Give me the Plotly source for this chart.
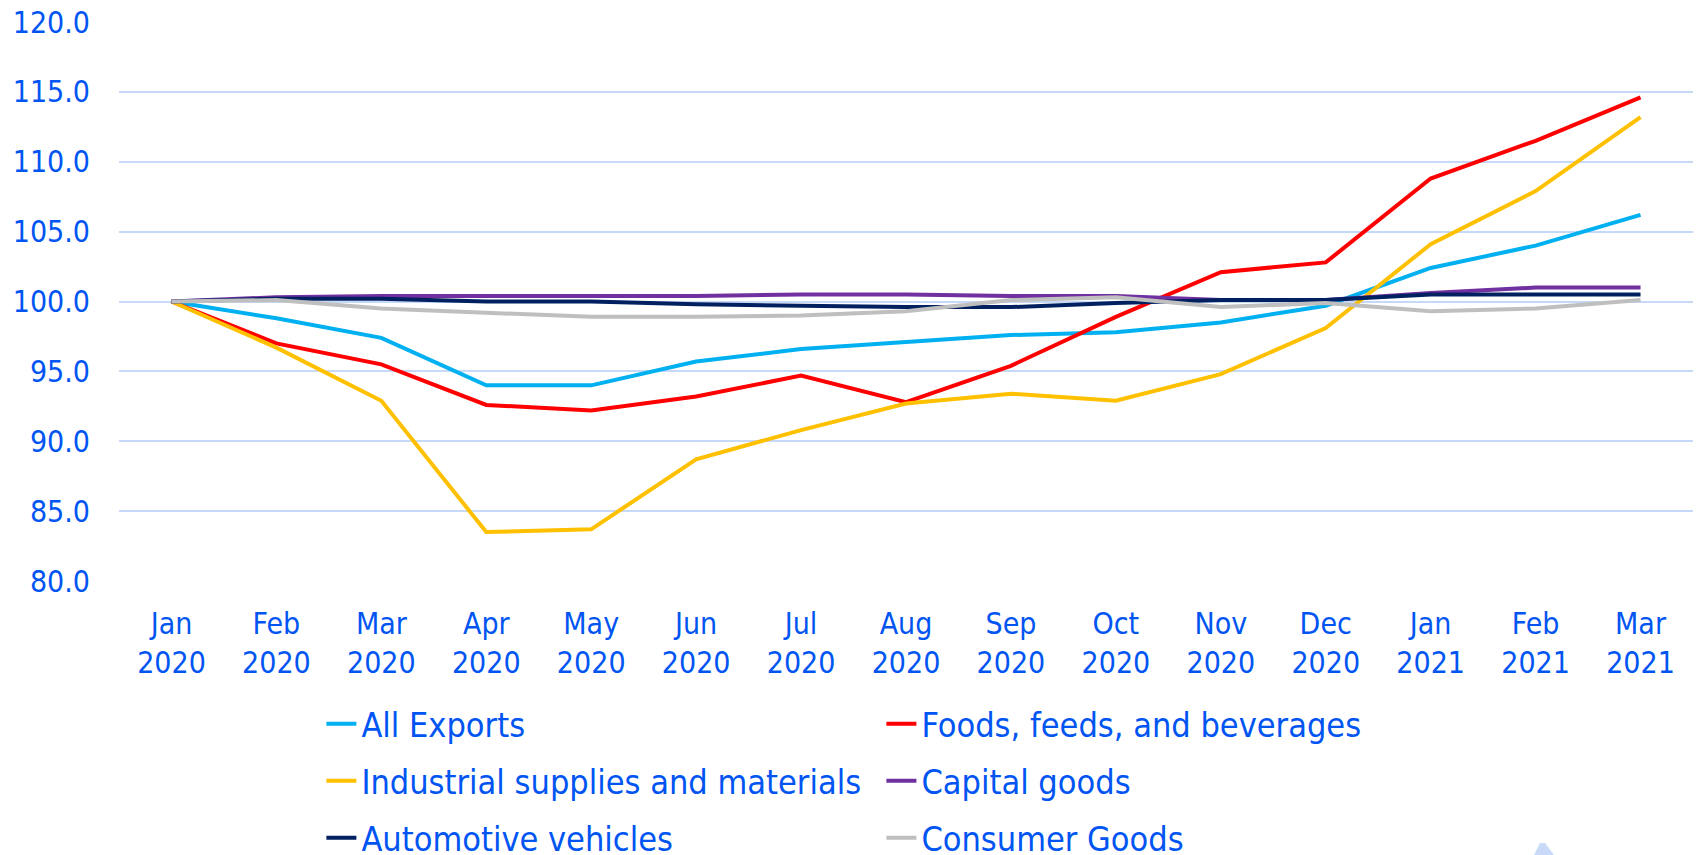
import plotly.graph_objects as go

# Monthly export price indexes, Jan 2020 = 100
months = ["Jan<br>2020", "Feb<br>2020", "Mar<br>2020", "Apr<br>2020", "May<br>2020",
          "Jun<br>2020", "Jul<br>2020", "Aug<br>2020", "Sep<br>2020", "Oct<br>2020",
          "Nov<br>2020", "Dec<br>2020", "Jan<br>2021", "Feb<br>2021", "Mar<br>2021"]

all_exports = [100.0, 98.8, 97.4, 94.0, 94.0, 95.7, 96.6, 97.1, 97.6, 97.8,
               98.5, 99.7, 102.4, 104.0, 106.2]
foods_feeds_beverages = [100.0, 97.0, 95.5, 92.6, 92.2, 93.2, 94.7, 92.8, 95.4, 98.9,
                         102.1, 102.8, 108.8, 111.5, 114.6]
industrial_supplies = [100.0, 96.7, 92.9, 83.5, 83.7, 88.7, 90.8, 92.7, 93.4, 92.9,
                       94.8, 98.1, 104.1, 107.9, 113.2]
capital_goods = [100.0, 100.3, 100.4, 100.4, 100.4, 100.4, 100.5, 100.5, 100.4, 100.4,
                 100.1, 100.1, 100.6, 101.0, 101.0]
automotive_vehicles = [100.0, 100.2, 100.2, 100.0, 100.0, 99.8, 99.7, 99.6, 99.6, 99.9,
                       100.1, 100.1, 100.5, 100.5, 100.5]
consumer_goods = [100.0, 100.1, 99.5, 99.2, 98.9, 98.9, 99.0, 99.3, 100.1, 100.3,
                  99.6, 99.9, 99.3, 99.5, 100.1]

y_ticks = [80, 85, 90, 95, 100, 105, 110, 115, 120]

series = [
    ("All Exports", all_exports, "#00B0F0", "legend"),
    ("Foods, feeds, and beverages", foods_feeds_beverages, "#FF0000", "legend"),
    ("Industrial supplies and materials", industrial_supplies, "#FFC000", "legend2"),
    ("Capital goods", capital_goods, "#7030A0", "legend2"),
    ("Automotive vehicles", automotive_vehicles, "#002060", "legend3"),
    ("Consumer Goods", consumer_goods, "#BFBFBF", "legend3"),
]

FONT = "DejaVu Sans Condensed, DejaVu Sans, sans-serif"
TEXT_BLUE = "#0055F2"
GRID = "#C6D9F8"

fig = go.Figure()
for name, values, color, leg in series:
    fig.add_trace(go.Scatter(
        x=months, y=values, name=name, mode="lines",
        line=dict(color=color, width=4),
        legend=leg,
    ))

# three legend rows, two entries each, placed in container coordinates
legend_common = dict(
    orientation="h", xanchor="left", yanchor="middle",
    xref="container", yref="container",
    font=dict(family=FONT, size=34, color=TEXT_BLUE),
    bgcolor="rgba(0,0,0,0)", entrywidth=515, entrywidthmode="pixels",
    itemclick=False, itemdoubleclick=False,
)

fig.update_layout(
    width=1696, height=855,
    margin=dict(l=119, r=3, t=22, b=274, autoexpand=False),
    plot_bgcolor="white", paper_bgcolor="white",
    font=dict(family=FONT, size=30, color=TEXT_BLUE),
    showlegend=True,
    legend=dict(x=0.1895, y=0.153, **legend_common),
    legend2=dict(x=0.1895, y=0.0864, **legend_common),
    legend3=dict(x=0.1895, y=0.0197, **legend_common),
    xaxis=dict(
        type="category", range=[-0.5, 14.5],
        showgrid=False, showline=False, zeroline=False, ticks="",
        tickfont=dict(family=FONT, size=30, color=TEXT_BLUE),
        ticklabelstandoff=22,
    ),
    yaxis=dict(
        range=[80, 120], tickvals=y_ticks, tickformat=".1f",
        showgrid=True, gridcolor=GRID, gridwidth=2,
        showline=False, zeroline=False, ticks="",
        tickfont=dict(family=FONT, size=30, color=TEXT_BLUE),
        ticklabelstandoff=28,
    ),
    shapes=[dict(
        type="path", xref="paper", yref="paper",
        path="M0.899,-0.49 L0.9028,-0.4687 L0.906,-0.4687 L0.9117,-0.49 Z",
        fillcolor="#C9DAF8", line=dict(width=0),
    )],
)

fig.write_html("out.html")
